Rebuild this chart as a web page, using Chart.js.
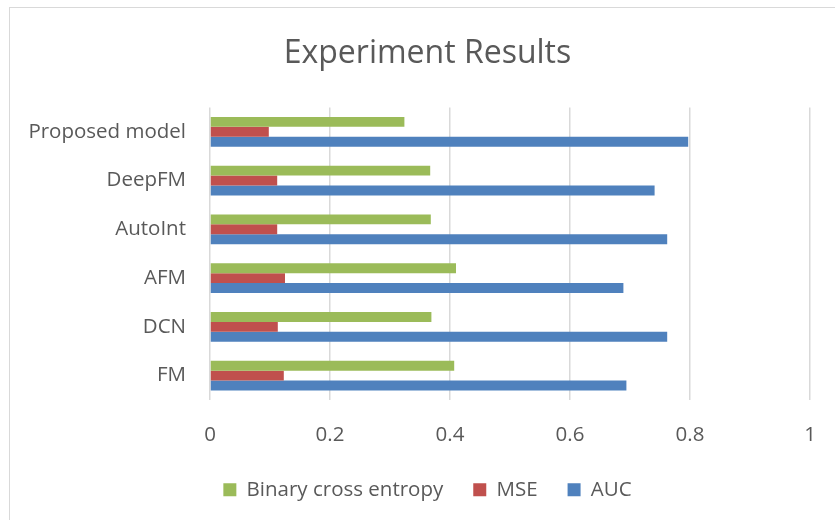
<!DOCTYPE html>
<html>
<head>
<meta charset="utf-8">
<script src="https://cdn.jsdelivr.net/npm/chart.js@4.4.1/dist/chart.umd.min.js"></script>
<style>
  html, body { margin: 0; padding: 0; background: #fff; overflow: hidden; }
  #wrap { position: relative; width: 835px; height: 520px; }
  #frame { position: absolute; left: 9px; top: 7px; width: 900px; height: 600px; border: 1.5px solid #d9d9d9; pointer-events: none; }
</style>
</head>
<body>
<div id="wrap">
  <canvas id="chart" width="835" height="520"></canvas>
  <div id="frame"></div>
</div>
<script>
const models  = ['Proposed model', 'DeepFM', 'AutoInt', 'AFM', 'DCN', 'FM'];
const bce     = [0.324, 0.367, 0.368, 0.410, 0.369, 0.407];
const mse     = [0.098, 0.112, 0.112, 0.125, 0.113, 0.123];
const auc     = [0.797, 0.741, 0.762, 0.689, 0.762, 0.694];
const xTicks  = [0, 0.2, 0.4, 0.6, 0.8, 1];

const TXT  = '#595959';
const FONT = "'Open Sans', sans-serif";

const ctx = document.getElementById('chart');

new Chart(ctx, {
  type: 'bar',
  data: {
    labels: models,
    datasets: [
      { label: 'Binary cross entropy', data: bce, backgroundColor: '#9BBB59' },
      { label: 'MSE',                  data: mse, backgroundColor: '#C0504D' },
      { label: 'AUC',                  data: auc, backgroundColor: '#4F81BD' },
    ],
  },
  options: {
    indexAxis: 'y',
    responsive: false,
    animation: false,
    categoryPercentage: 0.61,
    barPercentage: 1.0,
    layout: { padding: { left: 20, right: 0, top: 31, bottom: 10 } },
    plugins: {
      title: {
        display: true,
        text: 'Experiment Results',
        color: TXT,
        font: { family: FONT, size: 32, weight: 'normal' },
        padding: { top: 4, bottom: 34 },
      },
      legend: {
        position: 'bottom',
        labels: {
          color: TXT,
          font: { family: FONT, size: 20.5 },
          boxWidth: 13,
          boxHeight: 13,
          padding: 30,
        },
      },
      tooltip: { enabled: false },
    },
    scales: {
      x: {
        min: 0,
        max: 1,
        afterBuildTicks: s => { s.ticks = xTicks.map(v => ({ value: v })); },
        // keep the plot edge where the reference has it (right gutter of 25px)
        afterFit: s => { s.height = 49.5; s.paddingLeft = 0; s.paddingRight = 25; },
        grid: { color: '#d9d9d9', lineWidth: 1.5, drawTicks: false },
        border: { display: false },
        ticks: { color: TXT, font: { family: FONT, size: 20.5 }, padding: 23, callback: v => String(v) },
      },
      y: {
        grid: { display: false },
        border: { display: false },
        ticks: { color: TXT, font: { family: FONT, size: 20.5 }, padding: 16 },
        afterFit: s => { s.width = 190; },
      },
    },
  },
});
</script>
</body>
</html>
